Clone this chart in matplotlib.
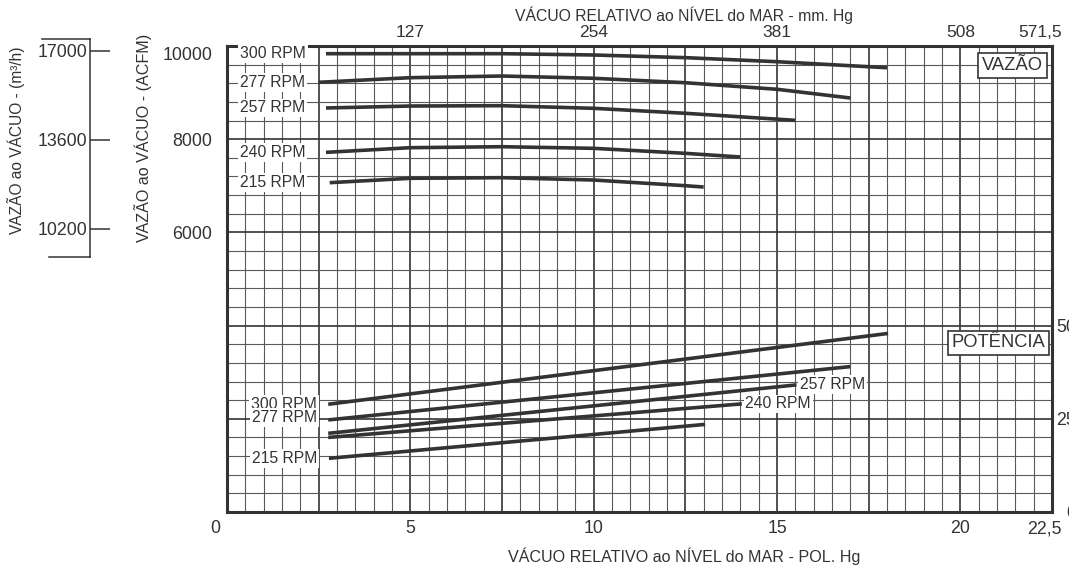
import numpy as np
import matplotlib
matplotlib.use("Agg")
import matplotlib.pyplot as plt
from matplotlib.ticker import MultipleLocator, FuncFormatter, FixedLocator
from matplotlib.transforms import ScaledTranslation

plt.rcParams['font.family'] = ['Liberation Sans', 'DejaVu Sans']

### data
rpm_labels = ['300 RPM', '277 RPM', '257 RPM', '240 RPM', '215 RPM']

# flow (ACFM) vs vacuum (POL. Hg)
flow_x_300 = [2.7, 5, 7.5, 10, 12.5, 15, 18]
flow_300 = [9835, 9835, 9835, 9807, 9750, 9663, 9534]
flow_x_277 = [2.5, 5, 7.5, 10, 12.5, 15, 17]
flow_277 = [9221, 9320, 9356, 9307, 9212, 9071, 8884]
flow_x_257 = [2.7, 5, 7.5, 10, 12.5, 15.5]
flow_257 = [8670, 8712, 8719, 8663, 8556, 8405]
flow_x_240 = [2.7, 5, 7.5, 10, 12.5, 14]
flow_240 = [7718, 7818, 7839, 7804, 7697, 7618]
flow_x_215 = [2.8, 5, 7.5, 10, 12.5, 13]
flow_215 = [7067, 7161, 7174, 7124, 7002, 6974]

# power vs vacuum
power_x_300 = [2.76, 18.03]
power_300 = [28.9, 47.9]
power_x_277 = [2.76, 17.0]
power_277 = [24.7, 39.0]
power_x_257 = [2.76, 15.53]
power_257 = [21.1, 34.1]
power_x_240 = [2.76, 14.04]
power_240 = [20.0, 29.0]
power_x_215 = [2.78, 13.04]
power_215 = [14.4, 23.5]

acfm_ticks = [6000, 8000, 10000]
m3h_ticks = [10200, 13600, 17000]
power_ticks = [0, 25, 50]
mm_ticks = [127, 254, 381, 508, 571.5]

flow_x = [flow_x_300, flow_x_277, flow_x_257, flow_x_240, flow_x_215]
flow_y = [flow_300, flow_277, flow_257, flow_240, flow_215]
power_x = [power_x_300, power_x_277, power_x_257, power_x_240, power_x_215]
power_y = [power_300, power_277, power_257, power_240, power_215]

ink = '#333333'
W, H = 1069, 571

fig = plt.figure(figsize=(W / 100, H / 100), dpi=100)
ax = fig.add_axes([227 / W, 1 - 512 / H, 825 / W, 466 / H])

ax.set_xlim(0, 22.5)
ax.set_ylim(0, 10000)

# grid paper
ax.xaxis.set_major_locator(MultipleLocator(2.5))
ax.xaxis.set_minor_locator(MultipleLocator(0.5))
ax.yaxis.set_major_locator(MultipleLocator(2000))
ax.yaxis.set_minor_locator(MultipleLocator(400))
ax.grid(which='major', color=ink, lw=1.2)
ax.grid(which='minor', color='#5a5a5a', lw=0.8)


def fmt_x(v, pos):
    if abs(v - 22.5) < 1e-6:
        return '22,5'
    if abs(v % 5) < 1e-6:
        return f'{v:.0f}'
    return ''


def fmt_y(v, pos):
    return f'{v:.0f}' if v in acfm_ticks else ''


ax.xaxis.set_major_formatter(FuncFormatter(fmt_x))
ax.yaxis.set_major_formatter(FuncFormatter(fmt_y))
for sp in ax.spines.values():
    sp.set_color(ink)
    sp.set_linewidth(2.2)

# flow curves
for xs, ys, lab in zip(flow_x, flow_y, rpm_labels):
    ax.plot(xs, ys, color=ink, lw=2.6, solid_capstyle='butt', zorder=4)
    ax.text(1.25, ys[0], lab, ha='center', va='center', fontsize=11.3, color=ink, zorder=5,
            bbox=dict(boxstyle='square,pad=0.12', fc='white', ec='none'))

ax.text(22.25, 9582, 'VAZÃO', ha='right', va='center', fontsize=13.2, color=ink, zorder=6,
        bbox=dict(boxstyle='square,pad=0.2', fc='white', ec=ink, lw=1.2))

# top axis in mm Hg
secax = ax.secondary_xaxis('top', functions=(lambda v: v * 25.4, lambda v: v / 25.4))
secax.xaxis.set_major_locator(FixedLocator(mm_ticks))
secax.xaxis.set_major_formatter(FuncFormatter(lambda v, p: f'{v:g}'.replace('.', ',')))
secax.tick_params(length=0, pad=4.3, labelsize=12.5, labelcolor=ink)
secax.spines['top'].set_visible(False)

# power on the right
ax2 = ax.twinx()
ax2.set_ylim(0, 125)
ax2.set_yticks(power_ticks)
for sp in ax2.spines.values():
    sp.set_visible(False)

for xs, ys, lab in zip(power_x, power_y, rpm_labels):
    ax2.plot(xs, ys, color=ink, lw=2.6, solid_capstyle='butt', zorder=4)
    box = dict(boxstyle='square,pad=0.12', fc='white', ec='none')
    if lab in ('257 RPM', '240 RPM'):
        ax2.text(xs[-1] + 0.1, ys[-1], lab, ha='left', va='center', fontsize=11.3, color=ink,
                 zorder=5, bbox=box)
    else:
        ax2.text(2.45, ys[0] + (0.6 if lab == '277 RPM' else 0), lab, ha='right', va='center',
                 fontsize=11.3, color=ink, zorder=5, bbox=box)

ax2.text(22.31, 45.4, 'POTÊNCIA', ha='right', va='center', fontsize=13.2, color=ink, zorder=6,
         bbox=dict(boxstyle='square,pad=0.2', fc='white', ec=ink, lw=1.2))

# tick styling once all axes exist (twinx resets tick params)
ax.tick_params(which='both', length=0)
ax.tick_params(axis='x', labelsize=12.8, pad=5.8, labelcolor=ink)
ax.tick_params(axis='y', labelsize=12.8, pad=10.8, labelcolor=ink)
ax2.tick_params(length=0, pad=17.3, labelsize=12.8, labelcolor=ink)
for lbl in ax2.get_yticklabels():
    lbl.set_horizontalalignment('right')

# m3/h bracket scale on the far left
axm = fig.add_axes([90 / W, 1 - 257 / H, 20 / W, 218 / H])
axm.set_ylim(9130, 17458)
axm.set_yticks(m3h_ticks)
axm.set_xticks([])
axm.patch.set_visible(False)
for s in ('top', 'bottom', 'right'):
    axm.spines[s].set_visible(False)
axm.spines['left'].set_color(ink)
axm.spines['left'].set_linewidth(1.1)
axm.tick_params(axis='y', direction='in', length=14.4, width=1.1, color=ink, pad=2.2,
                labelsize=12.8, labelcolor=ink)
axm.plot([-2.4, 0], [1, 1], transform=axm.transAxes, color=ink, lw=1.1, clip_on=False)
axm.plot([-2.05, 0], [0, 0], transform=axm.transAxes, color=ink, lw=1.1, clip_on=False)

# axis titles
fig.text(684 / W, 1 - 15 / H, 'VÁCUO RELATIVO ao NÍVEL do MAR - mm. Hg', ha='center', va='center',
         fontsize=11.3, color=ink)
fig.text(684 / W, 1 - 556 / H, 'VÁCUO RELATIVO ao NÍVEL do MAR - POL. Hg', ha='center', va='center',
         fontsize=11.6, color=ink)
fig.text(16 / W, 1 - 140 / H, 'VAZÃO ao VÁCUO - (m³/h)', rotation=90, ha='center', va='center',
         fontsize=11.2, color=ink)
fig.text(143 / W, 1 - 138 / H, 'VAZÃO ao VÁCUO - (ACFM)', rotation=90, ha='center', va='center',
         fontsize=11.6, color=ink)


# nudge a few tick labels like the original (done last so nothing resets them)
def nudge(axis, loc, dx, dy):
    axis.get_ticklabels()  # makes sure the ticks exist
    for t in axis.get_major_ticks():
        if abs(t.get_loc() - loc) < 1e-6:
            for lbl in (t.label1, t.label2):
                lbl.set_transform(lbl.get_transform() + ScaledTranslation(dx, dy, fig.dpi_scale_trans))


nudge(ax.xaxis, 0, -0.12, 0)
nudge(ax.xaxis, 22.5, -0.08, 0)
nudge(ax.yaxis, 10000, 0, -0.08)
nudge(secax.xaxis, 571.5, -0.12, 0)

fig.savefig('out.png', dpi=100)
